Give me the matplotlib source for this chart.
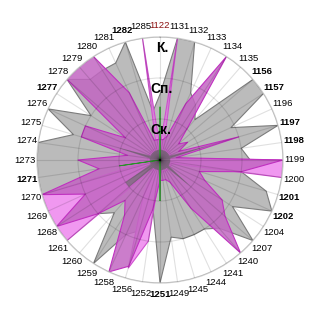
import numpy as np
import matplotlib
matplotlib.use('Agg')
import matplotlib.pyplot as plt

plt.rcParams['font.family'] = ['Liberation Sans', 'DejaVu Sans']

categories = ['1122', '1131', '1132', '1133', '1134', '1135', '1156', '1157', '1196', '1197',
              '1198', '1199', '1200', '1201', '1202', '1204', '1207', '1240', '1241', '1244',
              '1245', '1249', '1251', '1252', '1256', '1258', '1259', '1260', '1261', '1268',
              '1269', '1270', '1271', '1273', '1274', '1275', '1276', '1277', '1278', '1279',
              '1280', '1281', '1282', '1285']
bold_labels = ['1156', '1157', '1197', '1198', '1201', '1202', '1251', '1271', '1277', '1282']
red_labels = ['1122']

gray_vals = [1.6, 3, 3, 1.8, 1.6, 1.3, 3, 3, 1.9, 3,
             2.0, 2.2, 2.0, 2.7, 3, 2.1, 3, 2.2, 2.0, 2.0,
             2.0, 1.9, 3, 1.2, 1.8, 2.0, 3, 1.7, 2.0, 2.0,
             2.0, 3, 3, 3, 3, 2.2, 3, 2.0, 3, 2.6,
             2.6, 2.6, 3, 1.2]
magenta_vals = [0.5, 0.5, 0.6, 1.5, 3, 1.0, 0.6, 0.8, 0.5, 2.0,
                0.4, 3, 2.0, 1.0, 1.2, 1.8, 2.1, 3, 1.4, 0.6,
                0.5, 0.5, 0.5, 1.2, 2.7, 3, 1.6, 1.3, 2.0, 3,
                2.0, 3, 1.5, 2.0, 0.8, 2.0, 2.0, 1.0, 3, 3,
                3, 1.8, 0.5, 0.5]
pink_vals = [0.3, 3, 0.3, 0.3, 0.3, 0.3, 0.3, 0.3, 0.3, 0.3,
             0.3, 3, 3, 0.3, 0.3, 0.3, 0.3, 0.3, 0.3, 0.3,
             0.3, 0.3, 0.3, 2.0, 2.75, 1.0, 0.3, 0.3, 3, 3,
             3, 3, 0.3, 0.3, 0.3, 0.3, 0.3, 0.3, 0.3, 0.3,
             0.3, 0.3, 0.3, 3]
dark_vals = [0.25, 0.25, 0.25, 0.25, 0.25, 0.25, 0.25, 0.25, 0.25, 1.2,
             0.25, 0.25, 0.25, 0.25, 0.25, 0.25, 1.0, 0.25, 0.25, 0.25,
             0.25, 0.25, 1.0, 0.25, 0.25, 0.25, 0.25, 0.25, 1.0, 1.0,
             0.25, 0.25, 0.25, 0.25, 0.25, 1.1, 0.25, 0.25, 0.25, 0.25,
             0.25, 0.25, 0.25, 0.25]
green_vals = [1.3, 0, 0, 0, 0, 0, 0, 0, 0, 0,
              0, 0, 0, 0, 0, 0, 0, 0, 0, 0,
              0, 0, 1.0, 0, 0, 0, 0, 0, 0, 0,
              0, 0, 1.0, 0, 0, 0, 0, 0, 0, 0,
              0, 0, 0, 0]
level_labels = ['Ск.', 'Сп.', 'К.']
level_values = [1, 2, 3]

N = len(categories)
theta = np.arange(N) * 2 * np.pi / N


def closed(v):
    return np.append(theta, theta[0]), np.append(np.asarray(v, float), v[0])


fig = plt.figure(figsize=(3.2, 3.2), dpi=100)
ax = fig.add_axes([37 / 320, 37 / 320, 246 / 320, 246 / 320], projection='polar')
ax.set_theta_zero_location('N')
ax.set_theta_direction(-1)
ax.set_ylim(0, 3)

t, r = closed(gray_vals)
ax.fill(t, r, facecolor='#bbbbbb', edgecolor='#7c7c7c', linewidth=0.8, zorder=1)
t, r = closed(pink_vals)
ax.fill(t, r, facecolor='#f098f0', edgecolor='#d050d0', linewidth=0.8, zorder=1.2)
t, r = closed(magenta_vals)
ax.fill(t, r, facecolor='#c266c2', alpha=0.85, edgecolor='none', zorder=1.4)
ax.plot(t, r, color='#c030c0', linewidth=0.8, zorder=1.45)
t, r = closed(dark_vals)
ax.fill(t, r, facecolor='#8c6c8c', edgecolor='none', zorder=1.6)
t, r = closed(green_vals)
ax.fill(t, r, facecolor='#40b040', edgecolor='#30a030', linewidth=0.6, zorder=1.7)

ax.set_xticks(theta)
ax.set_xticklabels(categories, fontsize=6.8)
ax.tick_params(axis='x', pad=-2)
for lbl in ax.get_xticklabels():
    if lbl.get_text() in bold_labels:
        lbl.set_fontweight('bold')
    if lbl.get_text() in red_labels:
        lbl.set_color('#8b1010')
ax.set_yticks(level_values)
ax.set_yticklabels([])
ax.grid(True, color='black', alpha=0.12, linewidth=0.8)
ax.set_axisbelow(False)
ax.spines['polar'].set_color('#d0d0d0')
ax.spines['polar'].set_linewidth(1.0)

for lab, v in zip(level_labels, level_values):
    ax.text(np.deg2rad(1.0), v - 0.27, lab, fontsize=10, fontweight='bold',
            ha='center', va='center', zorder=5)

fig.savefig('out.png', dpi=100)
